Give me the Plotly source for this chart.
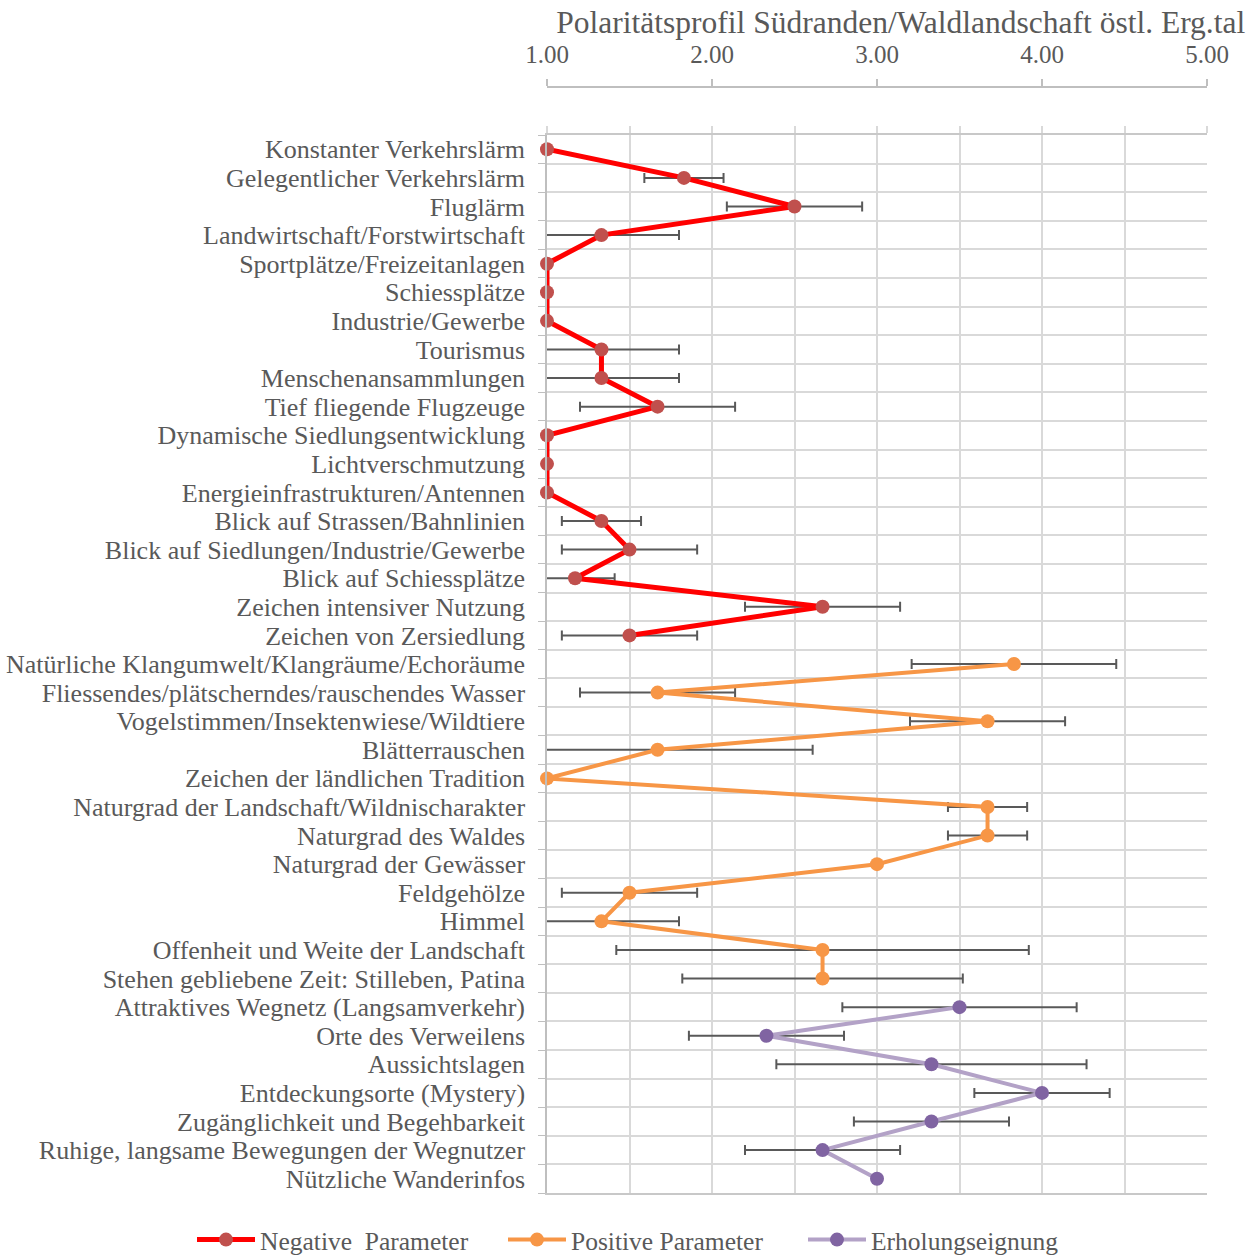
import plotly.graph_objects as go

categories = [
    "Konstanter Verkehrslärm", "Gelegentlicher Verkehrslärm", "Fluglärm",
    "Landwirtschaft/Forstwirtschaft", "Sportplätze/Freizeitanlagen", "Schiessplätze",
    "Industrie/Gewerbe", "Tourismus", "Menschenansammlungen", "Tief fliegende Flugzeuge",
    "Dynamische Siedlungsentwicklung", "Lichtverschmutzung", "Energieinfrastrukturen/Antennen",
    "Blick auf Strassen/Bahnlinien", "Blick auf Siedlungen/Industrie/Gewerbe",
    "Blick auf Schiessplätze", "Zeichen intensiver Nutzung", "Zeichen von Zersiedlung",
    "Natürliche Klangumwelt/Klangräume/Echoräume", "Fliessendes/plätscherndes/rauschendes Wasser",
    "Vogelstimmen/Insektenwiese/Wildtiere", "Blätterrauschen", "Zeichen der ländlichen Tradition",
    "Naturgrad der Landschaft/Wildnischarakter", "Naturgrad des Waldes", "Naturgrad der Gewässer",
    "Feldgehölze", "Himmel", "Offenheit und Weite der Landschaft",
    "Stehen gebliebene Zeit: Stilleben, Patina",
    "Attraktives Wegnetz (Langsamverkehr)", "Orte des Verweilens", "Aussichtslagen",
    "Entdeckungsorte (Mystery)", "Zugänglichkeit und Begehbarkeit",
    "Ruhige, langsame Bewegungen der Wegnutzer", "Nützliche Wanderinfos",
]

neg_values = [1.00, 1.83, 2.50, 1.33, 1.00, 1.00, 1.00, 1.33, 1.33, 1.67,
              1.00, 1.00, 1.00, 1.33, 1.50, 1.17, 2.67, 1.50]
neg_errors = [None, 0.24, 0.41, 0.47, None, None, None, 0.47, 0.47, 0.47,
              None, None, None, 0.24, 0.41, 0.24, 0.47, 0.41]

pos_values = [3.83, 1.67, 3.67, 1.67, 1.00, 3.67, 3.67, 3.00, 1.50, 1.33, 2.67, 2.67]
pos_errors = [0.62, 0.47, 0.47, 0.94, None, 0.24, 0.24, None, 0.41, 0.47, 1.25, 0.85]

erh_values = [3.50, 2.33, 3.33, 4.00, 3.33, 2.67, 3.00]
erh_errors = [0.71, 0.47, 0.94, 0.41, 0.47, 0.47, None]

x_ticks = [1, 2, 3, 4, 5]
x_ticklabels = ["1.00", "2.00", "3.00", "4.00", "5.00"]

title_text = "Polaritätsprofil Südranden/Waldlandschaft östl. Erg.tal"

series = [
    ("Negative  Parameter", neg_values, neg_errors, "#FF0000", "#C0504D", 5, "legend"),
    ("Positive Parameter", pos_values, pos_errors, "#F79646", "#F79646", 4, "legend2"),
    ("Erholungseignung", erh_values, erh_errors, "#B3A2C7", "#8064A2", 4, "legend3"),
]
legend_left_px = [192, 503, 803]

FONT = "Liberation Serif"
TXT = "#595959"

fig = go.Figure()
start = 0
traces_err = []
traces_line = []
for name, vals, errs, lc, mc, lw, lg in series:
    idx = list(range(start, start + len(vals)))
    start += len(vals)
    traces_err.append(go.Scatter(
        x=vals, y=idx, mode="markers", marker=dict(size=1, opacity=0),
        error_x=dict(type="data", array=errs, symmetric=True, color="#595959",
                     thickness=2, width=5),
        showlegend=False, hoverinfo="skip", cliponaxis=True,
    ))
    traces_line.append(go.Scatter(
        x=vals, y=idx, mode="lines+markers", name=name, legend=lg,
        line=dict(color=lc, width=lw),
        marker=dict(color=mc, size=14),
        cliponaxis=False,
    ))
for t in traces_err + traces_line:
    fig.add_trace(t)

# detached top axis with labels
fig.add_trace(go.Scatter(x=[None], y=[None], xaxis="x2", showlegend=False, hoverinfo="skip"))

n = len(categories)
legend_common = dict(orientation="h", xref="container", yref="container",
                     xanchor="left", y=1 - 1240 / 1256, yanchor="middle",
                     font=dict(family=FONT, size=25.5, color=TXT), itemwidth=58,
                     bgcolor="rgba(0,0,0,0)")
fig.update_layout(
    width=1256, height=1256,
    margin=dict(l=547, r=49, t=80, b=63),
    paper_bgcolor="white", plot_bgcolor="white",
    font=dict(family=FONT, color=TXT, size=24),
    title=dict(text=title_text, x=0.536, xref="paper", xanchor="center",
               y=1 - 22 / 1256, yref="container", yanchor="middle",
               font=dict(family=FONT, size=31.5, color=TXT)),
    xaxis=dict(range=[1, 5], side="top", showticklabels=False, dtick=0.5, tick0=1,
               showgrid=True, gridcolor="#D9D9D9", gridwidth=1.5,
               ticks="outside", ticklen=7, tickcolor="#D9D9D9", tickwidth=1.5,
               showline=True, linecolor="#C8C8C8", linewidth=1.5, mirror=True,
               zeroline=False, fixedrange=True, automargin=False),
    xaxis2=dict(range=[1, 5], overlaying="x", anchor="free", position=(1193 - 87) / 1113,
                side="top", tickvals=x_ticks, ticktext=x_ticklabels,
                ticks="outside", ticklen=7, tickcolor="#BFBFBF", tickwidth=1.5,
                showline=True, linecolor="#BFBFBF", linewidth=1.5,
                showgrid=False, zeroline=False, ticklabelstandoff=6, automargin=False,
                tickfont=dict(family=FONT, size=25, color=TXT)),
    yaxis=dict(domain=[0, (1193 - 135) / 1113], range=[n - 0.5, -0.5],
               tickvals=list(range(n)), ticktext=categories, ticks="",
               showgrid=False, zeroline=False, automargin=False,
               showline=True, linecolor="#BFBFBF", linewidth=1.5,
               ticklabelstandoff=15,
               tickfont=dict(family=FONT, size=26, color=TXT),
               minor=dict(tickmode="linear", tick0=0.5, dtick=1, ticks="outside",
                          ticklen=7, tickcolor="#BFBFBF", showgrid=True,
                          gridcolor="#D9D9D9", gridwidth=1.5),
               fixedrange=True),
    legend=dict(x=legend_left_px[0] / 1256, **legend_common),
    legend2=dict(x=legend_left_px[1] / 1256, **legend_common),
    legend3=dict(x=legend_left_px[2] / 1256, **legend_common),
    showlegend=True,
)

fig.write_html("out.html", post_script="document.body.style.margin='0';",
               config={"displayModeBar": False})
